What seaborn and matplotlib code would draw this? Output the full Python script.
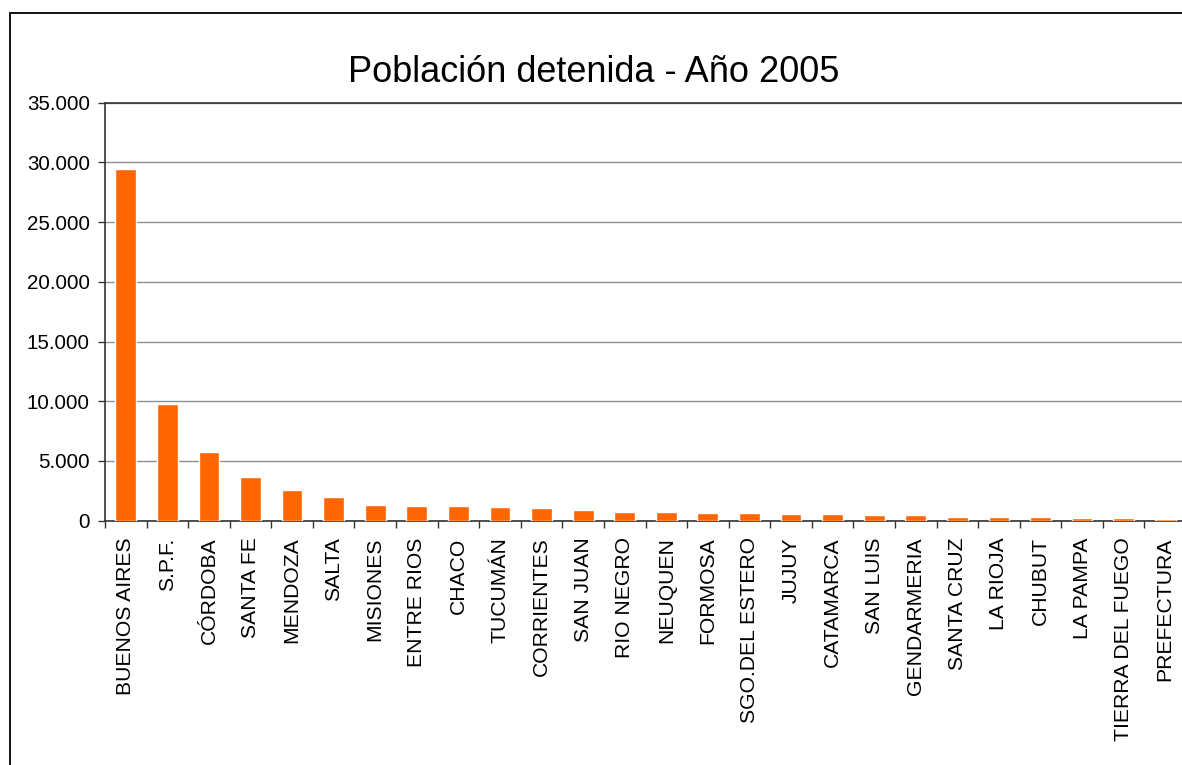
import matplotlib
matplotlib.use("Agg")
import matplotlib.pyplot as plt
from matplotlib.ticker import FuncFormatter, FixedLocator
from matplotlib.patches import Rectangle
import seaborn as sns
import pandas as pd

categories = ["BUENOS AIRES", "S.P.F.", "CÓRDOBA", "SANTA FE", "MENDOZA", "SALTA",
              "MISIONES", "ENTRE RIOS", "CHACO", "TUCUMÁN", "CORRIENTES", "SAN JUAN",
              "RIO NEGRO", "NEUQUEN", "FORMOSA", "SGO.DEL ESTERO", "JUJUY", "CATAMARCA",
              "SAN LUIS", "GENDARMERIA", "SANTA CRUZ", "LA RIOJA", "CHUBUT", "LA PAMPA",
              "TIERRA DEL FUEGO", "PREFECTURA"]
values = [29450, 9800, 5780, 3630, 2600, 1990,
          1290, 1210, 1200, 1130, 1070, 880,
          760, 690, 640, 630, 570, 560,
          510, 460, 320, 340, 280, 200,
          200, 150]
y_ticks = [0, 5000, 10000, 15000, 20000, 25000, 30000, 35000]
title = "Población detenida - Año 2005"

df = pd.DataFrame({"provincia": categories, "detenidos": values})

sns.set_theme(style="white")
plt.rcParams["font.family"] = ["Liberation Sans", "DejaVu Sans"]
plt.rcParams["text.color"] = "black"
plt.rcParams["xtick.color"] = "#333333"
plt.rcParams["ytick.color"] = "#333333"
plt.rcParams["xtick.labelcolor"] = "black"
plt.rcParams["ytick.labelcolor"] = "black"

fig = plt.figure(figsize=(11.82, 7.65), dpi=100)
ax = fig.add_axes([105 / 1182, 1 - 520.7 / 765, 1081 / 1182, (520.7 - 102.7) / 765])

sns.barplot(data=df, x="provincia", y="detenidos", color="#FF6600", width=0.5,
            saturation=1, ax=ax, zorder=3)

ax.set_ylim(0, 35000)
ax.set_xlim(-0.5, len(categories) - 0.5)
ax.yaxis.set_major_locator(FixedLocator(y_ticks))
ax.yaxis.set_major_formatter(FuncFormatter(lambda v, p: f"{int(v):,}".replace(",", ".")))
ax.grid(axis="y", color="#909090", linewidth=1.0, zorder=0)
ax.set_axisbelow(True)

ax.set_xlabel("")
ax.set_ylabel("")
ax.set_xticks(range(len(categories)))
ax.set_xticklabels(categories, rotation=90, fontsize=15.2, va="top", ha="center",
                   color="black")
ax.tick_params(axis="x", which="major", length=0, pad=12, bottom=True)
# boundary ticks between categories
ax.set_xticks([i - 0.5 for i in range(len(categories) + 1)], minor=True)
ax.tick_params(axis="x", which="minor", length=5, width=1, color="#333333",
               direction="out", bottom=True)
ax.tick_params(axis="y", labelsize=14.8, length=5, width=1, color="#333333",
               direction="out", pad=6, left=True, labelcolor="black")

for side in ["left", "bottom", "top"]:
    ax.spines[side].set_visible(True)
    ax.spines[side].set_color("#333333")
    ax.spines[side].set_linewidth(1.2)
ax.spines["right"].set_visible(False)

fig.text(594 / 1182, 1 - 81.5 / 765, title, ha="center", va="baseline", fontsize=26,
         color="black")

fig.patches.append(Rectangle((10 / 1182, -0.1), 1.2, 1 - 13.3 / 765 + 0.1,
                             transform=fig.transFigure, fill=False,
                             edgecolor="black", linewidth=1.3))

fig.savefig("out.png", dpi=100)
